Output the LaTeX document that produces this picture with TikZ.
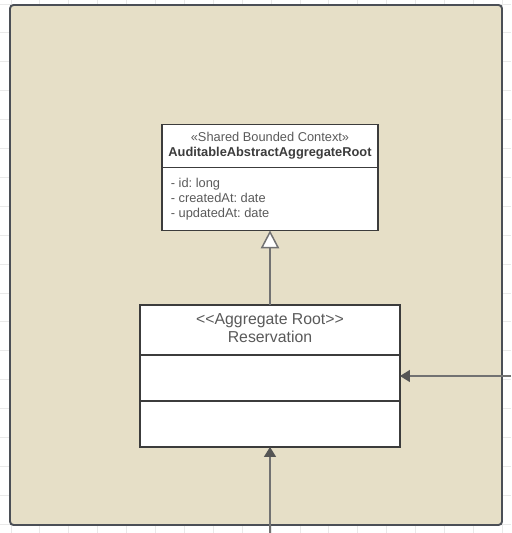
\documentclass[tikz,border=0pt]{standalone}
\usepackage{fontspec}
\setmainfont{Liberation Sans}
\usetikzlibrary{arrows.meta,positioning}

\definecolor{ctxfill}{HTML}{E6DFC7}
\definecolor{ctxline}{HTML}{4B4F56}
\definecolor{txtgrey}{HTML}{5A5A5A}
\definecolor{namegrey}{HTML}{3C3C3C}
\definecolor{linkgrey}{HTML}{727272}
\definecolor{tipgrey}{HTML}{555555}
\definecolor{gridgrey}{HTML}{E9E9E9}

\frenchspacing

\tikzset{
  gridline/.style={draw=gridgrey, line width=0.5pt},
  context/.style={draw=ctxline, fill=ctxfill, line width=1.1pt, rounded corners=2pt},
  classbox/.style={draw=namegrey, fill=white, line width=0.75pt, outer sep=0pt},
  divider/.style={draw=namegrey, line width=0.75pt},
  smalltxt/.style={text=txtgrey, font=\fontsize{7.3}{8.5}\selectfont, inner sep=0pt},
  bigtxt/.style={text=txtgrey, font=\fontsize{9}{10.8}\selectfont, inner sep=0pt},
  generalize/.style={draw=linkgrey, line width=0.85pt,
    -{Triangle[fill=white, length=0.36cm, width=0.37cm, line width=0.85pt]}},
  assoc/.style={draw=linkgrey, line width=0.85pt,
    -{Triangle[color=tipgrey, length=0.2cm, width=0.24cm]}}
}

\begin{document}
\begin{tikzpicture}[x=0.02cm, y=-0.02cm]
    \useasboundingbox (0,0) rectangle (511,533);
    % ---- faint canvas grid
    \foreach \gx in {0,...,17}
      { \draw[gridline] (11+28.9*\gx,0) -- (11+28.9*\gx,533); }
    \foreach \gy in {0,...,18}
      { \draw[gridline] (0,4+28.9*\gy) -- (511,4+28.9*\gy); }
    % ---- bounded context
    \draw[context] (10,5) rectangle (502,525);
    % ---- shared parent class
    \node[classbox, minimum width=4.32cm, minimum height=2.12cm] (root) at (270,177.5) {};
    \draw[divider] ([yshift=-0.86cm]root.north west) -- ([yshift=-0.86cm]root.north east);
    \node[smalltxt, anchor=base] (rootstereo) at (270,141.7) {«Shared Bounded Context»};
    \node[smalltxt, anchor=base, text=namegrey, font=\fontsize{7.3}{8.5}\selectfont\bfseries]
      (rootname) at (270,156.6) {AuditableAbstractAggregateRoot};
    \node[smalltxt, anchor=base west] (attrid) at (170.5,187.3) {- id: long};
    \node[smalltxt, anchor=base west] (attrcreated) at (170.5,202.2) {- createdAt: date};
    \node[smalltxt, anchor=base west] (attrupdated) at (170.5,217.1) {- updatedAt: date};
    % ---- aggregate root
    \node[classbox, minimum width=5.2cm, minimum height=2.84cm] (res) at (270,376) {};
    \draw[divider] ([yshift=-1.0cm]res.north west) -- ([yshift=-1.0cm]res.north east);
    \draw[divider] ([yshift=-1.92cm]res.north west) -- ([yshift=-1.92cm]res.north east);
    \node[bigtxt, anchor=base] (resstereo) at (270,324) {<\kern0pt<Aggregate Root>\kern0pt>};
    \node[bigtxt, anchor=base] (resname) at (270,342.7) {Reservation};
    % ---- connectors
    \coordinate (fromeast) at (511,376);
    \coordinate (fromsouth) at (270,533);
    \draw[generalize] (res.north) -- (root.south);
    \draw[assoc] (fromeast) -- (res.east);
    \draw[assoc] (fromsouth) -- (res.south);
\end{tikzpicture}
\end{document}
